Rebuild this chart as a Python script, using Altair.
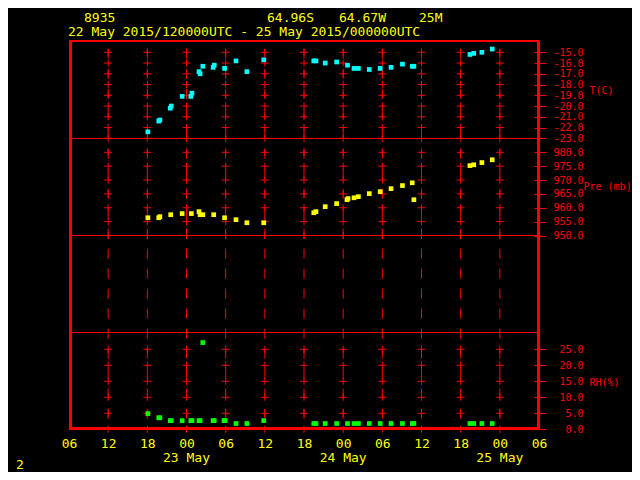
import json
import altair as alt
import pandas as pd

# ---------------- data ----------------
station_parts = ["8935", "64.96S", "64.67W", "25M"]
period_text = "22 May 2015/120000UTC - 25 May 2015/000000UTC"
page_number = "2"

x_tick_hours = [0, 6, 12, 18, 24, 30, 36, 42, 48, 54, 60, 66, 72]
x_tick_labels = ["06", "12", "18", "00", "06", "12", "18", "00", "06", "12", "18", "00", "06"]
grid_hours = [6, 12, 18, 24, 30, 36, 42, 48, 54, 60, 66]
day_hours = [18, 42, 66]
day_labels = ["23 May", "24 May", "25 May"]

t_ticks = [-23, -22, -21, -20, -19, -18, -17, -16, -15]
p_ticks = [950, 955, 960, 965, 970, 975, 980]
rh_ticks = [0, 5, 10, 15, 20, 25]

t_times = ["22 18:05", "22 19:45", "22 19:55", "22 21:30", "22 21:40", "22 23:20",
           "23 00:40", "23 00:50", "23 01:55", "23 02:05", "23 02:30", "23 04:05",
           "23 04:15", "23 05:50", "23 07:35", "23 09:15", "23 11:50", "23 19:30",
           "23 19:50", "23 21:15", "23 23:00", "24 00:40", "24 01:40", "24 02:20",
           "24 04:00", "24 05:40", "24 07:20", "24 09:05", "24 10:35", "24 10:50",
           "24 19:25", "24 20:00", "24 21:15", "24 22:50"]
t_vals = [-22.4, -21.4, -21.3, -20.2, -20.0, -19.1, -19.1, -18.8, -16.8, -17.0, -16.3,
          -16.4, -16.2, -16.5, -15.8, -16.8, -15.7, -15.8, -15.8, -16.0, -15.9, -16.2,
          -16.5, -16.5, -16.6, -16.5, -16.4, -16.1, -16.3, -16.3, -15.2, -15.1, -15.0, -14.7]

p_times = ["22 18:05", "22 19:45", "22 19:55", "22 21:35", "22 23:20", "23 00:45",
           "23 01:55", "23 02:05", "23 02:30", "23 04:10", "23 05:50", "23 07:35",
           "23 09:15", "23 11:50", "23 19:30", "23 19:50", "23 21:15", "23 23:00",
           "24 00:35", "24 00:45", "24 01:40", "24 02:20", "24 04:00", "24 05:40",
           "24 07:20", "24 09:05", "24 10:35", "24 10:50", "24 19:25", "24 20:00",
           "24 21:15", "24 22:50"]
p_vals = [956.4, 956.4, 956.8, 957.5, 957.9, 957.9, 958.6, 957.5, 957.5, 957.5, 956.4,
          955.7, 954.6, 954.6, 958.2, 958.6, 960.4, 961.5, 962.9, 963.3, 963.6, 964.0,
          965.1, 965.8, 966.9, 968.0, 969.0, 962.9, 975.2, 975.5, 976.3, 977.3]

rh_times = ["22 18:05", "22 19:45", "22 19:55", "22 21:30", "22 21:40", "22 23:20",
            "23 00:40", "23 00:50", "23 01:55", "23 02:05", "23 02:30", "23 04:05",
            "23 04:15", "23 05:45", "23 05:55", "23 07:35", "23 09:15", "23 11:50",
            "23 19:30", "23 19:50", "23 21:15", "23 23:00", "24 00:40", "24 01:40",
            "24 02:20", "24 04:00", "24 05:40", "24 07:20", "24 09:05", "24 10:35",
            "24 10:50", "24 19:25", "24 20:00", "24 21:15", "24 22:50"]
rh_vals = [4.9, 3.6, 3.6, 2.7, 2.7, 2.7, 2.7, 2.7, 2.7, 2.7, 27.1, 2.7, 2.7, 2.7, 2.7,
           1.8, 1.8, 2.7, 1.8, 1.8, 1.8, 1.8, 1.8, 1.8, 1.8, 1.8, 1.8, 1.8, 1.8, 1.8,
           1.8, 1.8, 1.8, 1.8, 1.8]

# ---------------- helpers ----------------
BASE = pd.Timestamp("2015-05-22 06:00")


def hours(times):
    ts = pd.to_datetime(["2015-05-" + s for s in times])
    return [(t - BASE) / pd.Timedelta(hours=1) for t in ts]


RED = "#ff0000"
YEL = "#ffff00"
CYAN = "#00ffff"
GREEN = "#00ff00"
MONO = "DejaVu Sans Mono"
W, H = 470, 389

xscale = alt.Scale(domain=[0, 72], range=[0, W], nice=False, zero=False)
xaxis = alt.Axis(values=x_tick_hours,
                 labelExpr=json.dumps(x_tick_labels) + "[round(datum.value / 6)]",
                 orient="bottom", domain=False, ticks=False, tickSize=0, grid=False,
                 labelColor=YEL, labelFont=MONO, labelFontSize=13,
                 labelBaseline="alphabetic", labelPadding=17.5,
                 labelFlush=False, labelOverlap=False, title=None)


def X():
    return alt.X("h:Q", scale=xscale, axis=xaxis, title=None)


t_scale = alt.Scale(domain=[-23, -15], range=[97.3, 11.3], nice=False, zero=False)
p_scale = alt.Scale(domain=[950, 980], range=[194.5, 111.3], nice=False, zero=False)
rh_scale = alt.Scale(domain=[0, 25], range=[388.3, 308.3], nice=False, zero=False)


def yaxis(vals, title, tx, ty):
    return alt.Axis(values=vals, orient="right", offset=-5, domain=False, grid=False,
                    ticks=True, tickSize=12, tickColor=RED, tickWidth=1,
                    labelColor=RED, labelFont=MONO, labelFontSize=10,
                    labelAlign="right", labelBaseline="middle", labelPadding=37,
                    labelOverlap=False, labelFlush=False,
                    labelExpr="replace(format(datum.value, '.1f'), '\u2212', '-')",
                    title=title, titleColor=RED, titleFont=MONO, titleFontSize=10,
                    titleFontWeight="normal", titleAngle=0, titleAlign="left",
                    titleBaseline="middle", titleX=tx, titleY=ty)


dummy = pd.DataFrame({"a": [0]})
layers = []

# anchor fixing the top-left corner of the drawing
layers.append(alt.Chart(dummy).mark_rule(opacity=0, strokeWidth=0).encode(
    x=alt.value(-61), x2=alt.value(-60), y=alt.value(-33), y2=alt.value(-32)))

# dashed vertical time lines
grid_df = pd.DataFrame({"h": grid_hours})
layers.append(alt.Chart(grid_df).mark_rule(color=RED, strokeWidth=1, strokeDash=[10, 10],
                                           strokeDashOffset=12.3).encode(
    x=X(), y=alt.value(0), y2=alt.value(H)))

# panel separators
for yy in [97.5, 194.5, 291.5]:
    layers.append(alt.Chart(dummy).mark_rule(color=RED, strokeWidth=1).encode(
        x=alt.value(0), x2=alt.value(W), y=alt.value(yy), y2=alt.value(yy)))

# crosses on the time lines + right axes
panels = [
    (t_ticks, t_scale, "T(C)", 55, 49),
    (p_ticks, p_scale, "Pre (mb)", 49, 145.7),
    (rh_ticks, rh_scale, "RH(%)", 55, 341),
]
for ticks, sc, title, tx, ty in panels:
    cdf = pd.DataFrame([{"h": h, "v": v} for h in grid_hours for v in ticks])
    layers.append(alt.Chart(cdf).mark_tick(orient="horizontal", size=8, thickness=1,
                                           color=RED, opacity=1).encode(
        x=X(), y=alt.Y("v:Q", scale=sc, axis=yaxis(ticks, title, tx, ty))))
    layers.append(alt.Chart(cdf).mark_tick(orient="vertical", size=7, thickness=1,
                                           color=RED, opacity=1).encode(
        x=X(), y=alt.Y("v:Q", scale=sc, axis=None)))

# frame
layers.append(alt.Chart(dummy).mark_rule(color=RED, strokeWidth=2).encode(
    x=alt.value(0), x2=alt.value(W), y=alt.value(0), y2=alt.value(0)))
layers.append(alt.Chart(dummy).mark_rule(color=RED, strokeWidth=3).encode(
    x=alt.value(0), x2=alt.value(W), y=alt.value(387.5), y2=alt.value(387.5)))
layers.append(alt.Chart(dummy).mark_rule(color=RED, strokeWidth=3).encode(
    x=alt.value(1.5), x2=alt.value(1.5), y=alt.value(0), y2=alt.value(H)))
layers.append(alt.Chart(dummy).mark_rule(color=RED, strokeWidth=3).encode(
    x=alt.value(469.5), x2=alt.value(469.5), y=alt.value(0), y2=alt.value(H)))

# data
t_df = pd.DataFrame({"h": hours(t_times), "v": t_vals})
p_df = pd.DataFrame({"h": hours(p_times), "v": p_vals})
rh_df = pd.DataFrame({"h": hours(rh_times), "v": rh_vals})
for df, sc, col in [(t_df, t_scale, CYAN), (p_df, p_scale, YEL), (rh_df, rh_scale, GREEN)]:
    layers.append(alt.Chart(df).mark_square(size=22, color=col, opacity=1, strokeWidth=0).encode(
        x=X(), y=alt.Y("v:Q", scale=sc, axis=None)))

# day labels under the time axis
day_df = pd.DataFrame({"h": day_hours, "lbl": day_labels})
layers.append(alt.Chart(day_df).mark_text(color=YEL, font=MONO, fontSize=13, align="center",
                                          baseline="alphabetic").encode(
    x=X(), y=alt.value(421), text="lbl:N"))

# header texts
for txt, px in zip(station_parts, [15, 198, 270, 350]):
    layers.append(alt.Chart(dummy).mark_text(color=YEL, font=MONO, fontSize=13, align="left",
                                             baseline="alphabetic").encode(
        x=alt.value(px), y=alt.value(-19), text=alt.value(txt)))
layers.append(alt.Chart(dummy).mark_text(color=YEL, font=MONO, fontSize=13, align="left",
                                         baseline="alphabetic").encode(
    x=alt.value(-1), y=alt.value(-5), text=alt.value(period_text)))
layers.append(alt.Chart(dummy).mark_text(color=YEL, font=MONO, fontSize=13, align="left",
                                         baseline="alphabetic").encode(
    x=alt.value(-53), y=alt.value(428), text=alt.value(page_number)))

chart = alt.layer(*layers).resolve_scale(y="independent").properties(
    width=W, height=H, background="black", padding=0
).configure_view(strokeWidth=0)

chart.save("out.html", embed_options={"renderer": "svg", "actions": False})
